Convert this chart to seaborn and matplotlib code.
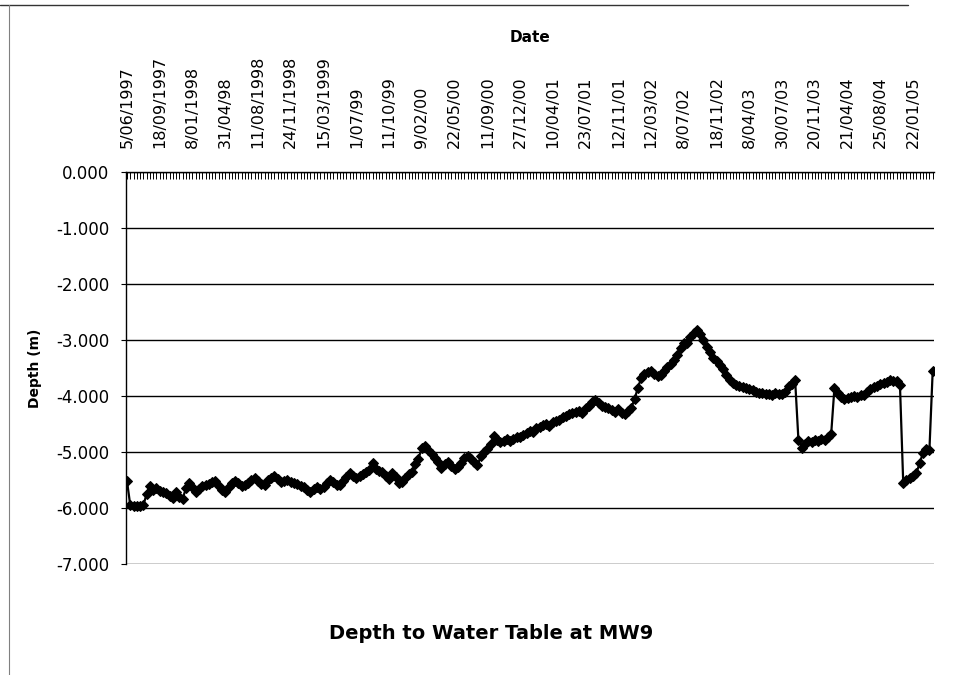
import matplotlib
matplotlib.use("Agg")
import matplotlib.pyplot as plt
from matplotlib.lines import Line2D
from matplotlib.ticker import FormatStrFormatter, MultipleLocator
import seaborn as sns
import pandas as pd

# tick labels along the top (one every 10 readings)
date_labels = [
    "5/06/1997", "18/09/1997", "8/01/1998", "31/04/98", "11/08/1998",
    "24/11/1998", "15/03/1999", "1/07/99", "11/10/99", "9/02/00",
    "22/05/00", "11/09/00", "27/12/00", "10/04/01", "23/07/01",
    "12/11/01", "12/03/02", "8/07/02", "18/11/02", "8/04/03",
    "30/07/03", "20/11/03", "21/04/04", "25/08/04", "22/01/05",
]

# depth to water table (m), one value per reading
depth = [
    -5.52, -5.95, -5.97, -5.96, -5.97, -5.95, -5.75, -5.60, -5.68, -5.65,
    -5.70, -5.71, -5.74, -5.78, -5.82, -5.72, -5.80, -5.83, -5.65, -5.55,
    -5.62, -5.71, -5.66, -5.60, -5.59, -5.57, -5.54, -5.52, -5.60, -5.67,
    -5.71, -5.62, -5.55, -5.52, -5.56, -5.60, -5.58, -5.55, -5.50, -5.46,
    -5.52, -5.57, -5.59, -5.50, -5.47, -5.42, -5.48, -5.53, -5.52, -5.50,
    -5.54, -5.55, -5.57, -5.60, -5.63, -5.68, -5.71, -5.66, -5.62, -5.66,
    -5.63, -5.55, -5.50, -5.53, -5.58, -5.59, -5.52, -5.45, -5.38, -5.42,
    -5.46, -5.43, -5.40, -5.36, -5.32, -5.20, -5.30, -5.33, -5.36, -5.42,
    -5.48, -5.38, -5.44, -5.55, -5.53, -5.46, -5.40, -5.36, -5.22, -5.12,
    -4.93, -4.90, -4.97, -5.03, -5.10, -5.18, -5.28, -5.22, -5.18, -5.25,
    -5.30, -5.26, -5.20, -5.10, -5.08, -5.12, -5.18, -5.24, -5.08, -5.00,
    -4.95, -4.85, -4.72, -4.78, -4.83, -4.80, -4.77, -4.80, -4.76, -4.74,
    -4.73, -4.70, -4.66, -4.63, -4.64, -4.58, -4.55, -4.52, -4.50, -4.53,
    -4.46, -4.45, -4.43, -4.38, -4.35, -4.33, -4.30, -4.28, -4.26, -4.30,
    -4.22, -4.18, -4.10, -4.07, -4.13, -4.18, -4.20, -4.22, -4.25, -4.28,
    -4.24, -4.30, -4.33, -4.27, -4.21, -4.05, -3.85, -3.68, -3.60, -3.58,
    -3.56, -3.60, -3.65, -3.62, -3.55, -3.48, -3.42, -3.35, -3.27, -3.15,
    -3.06, -3.05, -2.95, -2.88, -2.82, -2.90, -3.00, -3.12, -3.22, -3.32,
    -3.38, -3.44, -3.52, -3.62, -3.72, -3.76, -3.80, -3.82, -3.84, -3.86,
    -3.88, -3.90, -3.92, -3.94, -3.95, -3.96, -3.97, -3.98, -3.95, -3.97,
    -3.96, -3.93, -3.82, -3.78, -3.72, -4.78, -4.92, -4.85, -4.80, -4.83,
    -4.79, -4.80, -4.76, -4.78, -4.73, -4.68, -3.85, -3.95, -4.02, -4.05,
    -4.03, -4.02, -4.00, -4.02, -3.98, -3.99, -3.93, -3.87, -3.84, -3.82,
    -3.78, -3.76, -3.75, -3.72, -3.74, -3.73, -3.80, -5.55, -5.50, -5.46,
    -5.42, -5.38, -5.20, -5.02, -4.95, -4.96, -3.55,
]

df = pd.DataFrame({"reading": range(len(depth)), "depth": depth})

sns.set_style("white")
plt.rcParams["font.family"] = ["DejaVu Sans"]
plt.rcParams["text.color"] = "black"
plt.rcParams["axes.labelcolor"] = "black"
plt.rcParams["xtick.color"] = "black"
plt.rcParams["ytick.color"] = "black"

fig = plt.figure(figsize=(9.56, 6.75), dpi=100)
ax = fig.add_axes([0.1318, 0.1644, 0.8452, 0.5808])

sns.lineplot(data=df, x="reading", y="depth", ax=ax, color="black",
             linewidth=1.6, marker="D", markersize=5.2,
             markeredgecolor="black", markerfacecolor="black")

ax.set_ylim(-7, 0)
ax.set_xlim(-0.3, len(depth) - 0.6)
ax.yaxis.set_major_locator(MultipleLocator(1))
ax.yaxis.set_major_formatter(FormatStrFormatter("%.3f"))
ax.grid(axis="y", color="black", linewidth=1)
ax.grid(axis="x", visible=False)

# date axis on top, labels every 10 readings, tick for every reading
ax.xaxis.tick_top()
ax.xaxis.set_label_position("top")
ax.set_xticks(range(0, 10 * len(date_labels), 10))
ax.set_xticklabels(date_labels, rotation=90, fontsize=11.5)
ax.set_xticks(range(len(depth)), minor=True)
ax.tick_params(axis="x", which="both", direction="in", length=5, width=0.7,
               top=True, bottom=False, pad=17)
ax.tick_params(axis="y", direction="out", length=3.6, width=0.8,
               left=True, labelsize=12, pad=8.5)

ax.set_xlabel("Date", fontsize=11, fontweight="bold", labelpad=10)
ax.set_ylabel("Depth (m)", fontsize=10, fontweight="bold", labelpad=10)

for side in ["right", "bottom"]:
    ax.spines[side].set_visible(False)
for side in ["left", "top"]:
    ax.spines[side].set_color("black")
    ax.spines[side].set_linewidth(1)

fig.text(0.514, 0.062, "Depth to Water Table at MW9", ha="center",
         va="center", fontsize=14, fontweight="bold")

# outer chart border
fig.add_artist(Line2D([0.0, 0.95], [0.992, 0.992], color="0.2", linewidth=1))
fig.add_artist(Line2D([0.009, 0.009], [0.0, 0.992], color="0.5", linewidth=0.8))

plt.savefig("out.png", dpi=100)
plt.close()
